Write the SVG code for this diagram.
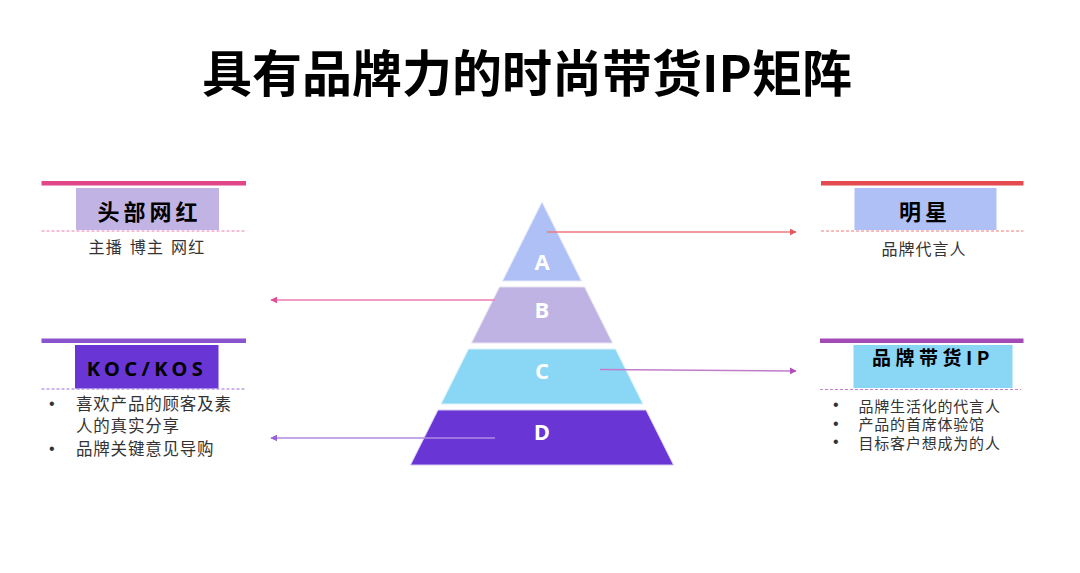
<svg xmlns="http://www.w3.org/2000/svg" width="1080" height="573" viewBox="0 0 1080 573">
<style>
.cjk{font-family:"Noto Sans CJK SC","Noto Sans",sans-serif}
.title{font-size:50px;font-weight:700;fill:#000}
.head{font-size:22px;font-weight:700;fill:#000;letter-spacing:4px}
.sub{font-size:16px;fill:#333}
.bul{font-size:16.5px;fill:#333;letter-spacing:0.8px}
.bulr{font-size:15px;fill:#333;letter-spacing:0.8px}
.dot{font-family:"Liberation Sans",Arial,sans-serif;font-size:16px;fill:#333}
.tier{font-family:"Open Sans","Noto Sans",sans-serif;font-size:22px;font-weight:700;fill:#fff}
.conn{fill:none;stroke-width:1.3}
</style>
<defs>
<marker id="mRed" viewBox="0 0 10 10" refX="9" refY="5" markerWidth="7" markerHeight="7" orient="auto" markerUnits="userSpaceOnUse"><path d="M0,0 L10,5 L0,10 z" fill="#E8565B"/></marker>
<marker id="mPink" viewBox="0 0 10 10" refX="9" refY="5" markerWidth="7" markerHeight="7" orient="auto" markerUnits="userSpaceOnUse"><path d="M0,0 L10,5 L0,10 z" fill="#E84C94"/></marker>
<marker id="mMag" viewBox="0 0 10 10" refX="9" refY="5" markerWidth="7" markerHeight="7" orient="auto" markerUnits="userSpaceOnUse"><path d="M0,0 L10,5 L0,10 z" fill="#B04CBC"/></marker>
<marker id="mPur" viewBox="0 0 10 10" refX="9" refY="5" markerWidth="7" markerHeight="7" orient="auto" markerUnits="userSpaceOnUse"><path d="M0,0 L10,5 L0,10 z" fill="#9A62D8"/></marker>
</defs>
<rect width="1080" height="573" fill="#fff"/>
<text class="cjk title" x="527" y="92" text-anchor="middle">具有品牌力的时尚带货IP矩阵</text>

<g id="pyramid">
<g id="tierA"><polygon points="542,202 502.5,281 581.5,281" fill="#AEC0F5" stroke="#E3E8FB" stroke-width="1"/><text class="tier" x="542" y="270" text-anchor="middle">A</text></g>
<g id="tierB"><polygon points="499.5,287 584.5,287 612.5,343 471.5,343" fill="#BFB3E3" stroke="#E6E1F4" stroke-width="1"/><text class="tier" x="542" y="318" text-anchor="middle">B</text></g>
<g id="tierC"><polygon points="468.5,349 615.5,349 643,404 441,404" fill="#8AD6F5" stroke="#DDF2FC" stroke-width="1"/><text class="tier" x="542" y="379" text-anchor="middle">C</text></g>
<g id="tierD"><polygon points="438,410 646,410 673.5,465 410.5,465" fill="#6935D5" stroke="#D9CCF4" stroke-width="1"/><text class="tier" x="542" y="440" text-anchor="middle">D</text></g>
</g>

<g id="connectors">
<line class="conn" x1="547" y1="232" x2="796" y2="232" stroke="#EC7A7E" marker-end="url(#mRed)"/>
<line class="conn" x1="495" y1="300" x2="271" y2="300" stroke="#EE7DB3" marker-end="url(#mPink)"/>
<line class="conn" x1="600" y1="369.5" x2="796" y2="371" stroke="#C07DCA" marker-end="url(#mMag)"/>
<line class="conn" x1="495" y1="438" x2="271" y2="438" stroke="#B08AE3" marker-end="url(#mPur)"/>
</g>

<g id="panel-toutiao">
<rect x="41.5" y="181" width="204.5" height="4.5" fill="#E2468A"/>
<rect x="76" y="188" width="143" height="42" fill="#C1B3E3"/>
<text class="cjk head" x="149.5" y="220" text-anchor="middle">头部网红</text>
<line x1="41.5" y1="231" x2="246" y2="231" stroke="#EE7DB3" stroke-width="1" stroke-dasharray="3,2"/>
<text class="cjk sub" x="147" y="253" text-anchor="middle" letter-spacing="1.2" word-spacing="2" xml:space="preserve">主播 博主 网红</text>
</g>

<g id="panel-koc">
<rect x="41.5" y="338.5" width="204.5" height="4.5" fill="#8A55CC"/>
<rect x="75" y="345" width="143.5" height="43.5" fill="#6935D5"/>
<text x="147" y="376" text-anchor="middle" font-family="'Noto Sans','Open Sans',sans-serif" font-size="20" font-weight="700" letter-spacing="4.4" fill="#000">KOC/KOS</text>
<line x1="41.5" y1="389" x2="246" y2="389" stroke="#9A6BDB" stroke-width="1" stroke-dasharray="3,2"/>
<text class="dot" x="49" y="409">•</text>
<text class="cjk bul" x="76" y="410">喜欢产品的顾客及素</text>
<text class="cjk bul" x="76" y="432">人的真实分享</text>
<text class="dot" x="49" y="453.5">•</text>
<text class="cjk bul" x="76" y="454.5">品牌关键意见导购</text>
</g>

<g id="panel-star">
<rect x="821" y="181" width="202.5" height="4.5" fill="#E34B4F"/>
<rect x="854.5" y="188" width="142" height="42" fill="#AEC0F5"/>
<text class="cjk head" x="925" y="220" text-anchor="middle">明星</text>
<line x1="821" y1="231" x2="1023.5" y2="231" stroke="#EE7A7E" stroke-width="1" stroke-dasharray="3,2"/>
<text class="cjk sub" x="924" y="255" text-anchor="middle" letter-spacing="1">品牌代言人</text>
</g>

<g id="panel-brandip">
<rect x="820" y="338.5" width="203.5" height="4.5" fill="#A24AB6"/>
<rect x="853.5" y="345" width="159" height="43" fill="#8AD6F5"/>
<text class="cjk" x="872" y="365" font-size="19" font-weight="700" letter-spacing="4.5" fill="#000">品牌带货IP</text>
<line x1="820" y1="389.5" x2="1021" y2="389.5" stroke="#C77DD0" stroke-width="1" stroke-dasharray="3,2"/>
<text class="dot" x="833" y="410">•</text>
<text class="cjk bulr" x="858.5" y="411.5">品牌生活化的代言人</text>
<text class="dot" x="833" y="428.5">•</text>
<text class="cjk bulr" x="858.5" y="430">产品的首席体验馆</text>
<text class="dot" x="833" y="447">•</text>
<text class="cjk bulr" x="858.5" y="448.5">目标客户想成为的人</text>
</g>
</svg>
